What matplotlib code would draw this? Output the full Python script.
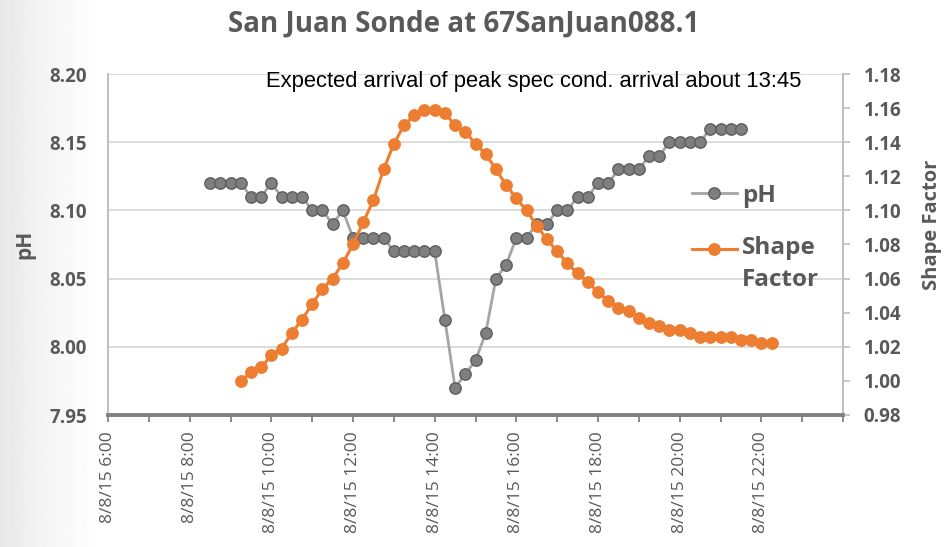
import numpy as np
import pandas as pd
import matplotlib
matplotlib.use("Agg")
import matplotlib.pyplot as plt
import matplotlib.dates as mdates
from matplotlib.ticker import FixedLocator, FormatStrFormatter, FuncFormatter
from matplotlib.legend_handler import HandlerLine2D

# ---- data -------------------------------------------------------------
title = "San Juan Sonde at 67SanJuan088.1"
note = "Expected arrival of peak spec cond. arrival about 13:45"
sample_interval = "15min"

ph_start = "2015-08-08 08:30"
ph_values = [
    8.12, 8.12, 8.12, 8.12, 8.11, 8.11, 8.12, 8.11, 8.11, 8.11,
    8.10, 8.10, 8.09, 8.10, 8.08, 8.08, 8.08, 8.08, 8.07, 8.07,
    8.07, 8.07, 8.07, 8.02, 7.97, 7.98, 7.99, 8.01, 8.05, 8.06,
    8.08, 8.08, 8.09, 8.09, 8.10, 8.10, 8.11, 8.11, 8.12, 8.12,
    8.13, 8.13, 8.13, 8.14, 8.14, 8.15, 8.15, 8.15, 8.15, 8.16,
    8.16, 8.16, 8.16,
]

shape_start = "2015-08-08 09:15"
shape_values = [
    1.000, 1.005, 1.008, 1.015, 1.019, 1.028, 1.036, 1.045, 1.054, 1.060,
    1.069, 1.080, 1.093, 1.106, 1.124, 1.139, 1.150, 1.156, 1.159, 1.159,
    1.157, 1.150, 1.146, 1.139, 1.133, 1.124, 1.115, 1.107, 1.100, 1.091,
    1.083, 1.076, 1.069, 1.063, 1.058, 1.052, 1.047, 1.043, 1.041, 1.037,
    1.034, 1.032, 1.030, 1.030, 1.028, 1.026, 1.026, 1.026, 1.026, 1.024,
    1.024, 1.022, 1.022,
]

x_start = "2015-08-08 06:00"
x_end = "2015-08-09 00:00"
ph_ticks = [7.95, 8.00, 8.05, 8.10, 8.15, 8.20]
shape_ticks = [0.98, 1.00, 1.02, 1.04, 1.06, 1.08, 1.10, 1.12, 1.14, 1.16, 1.18]

ph_times = pd.date_range(ph_start, periods=len(ph_values), freq=sample_interval)
shape_times = pd.date_range(shape_start, periods=len(shape_values), freq=sample_interval)

# ---- style ------------------------------------------------------------
TXT = "#595959"
ORANGE = "#ED7D31"
GRID = "#d9d9d9"
SPINE = "#bfbfbf"
FONT = ["Open Sans", "DejaVu Sans"]
plt.rcParams["font.family"] = FONT

W, H = 945, 547
fig = plt.figure(figsize=(W / 100, H / 100), dpi=100)
fig.patch.set_facecolor("white")

# soft grey shading along the left edge of the slide
bg = fig.add_axes([0, 0, 1, 1], zorder=-10)
xs = np.linspace(0, 1, 400)
shade = 1.0 - 0.09 * np.clip(1 - xs / 0.12, 0, 1) ** 1.5
bg.imshow(np.tile(shade, (10, 1)), cmap="gray", vmin=0, vmax=1,
          aspect="auto", extent=[0, 1, 0, 1])
bg.set_axis_off()

L, R, T, B = 108, 843, 74, 415
ax = fig.add_axes([L / W, 1 - B / H, (R - L) / W, (B - T) / H])
ax.set_facecolor("none")
ax2 = ax.twinx()

# pH series
ax.plot(ph_times, ph_values, color="#A5A5A5", lw=2.0, marker="o", ms=8.2,
        mfc="#7F7F7F", mec="#5E5E5E", mew=1.0, label="pH", zorder=3)
# shape factor series
ax2.plot(shape_times, shape_values, color=ORANGE, lw=2.2, marker="o", ms=8.2,
         mfc=ORANGE, mec=ORANGE, label="Shape\nFactor", zorder=3)

# x axis
ax.set_xlim(pd.Timestamp(x_start), pd.Timestamp(x_end))
ax.xaxis.set_major_locator(mdates.HourLocator(byhour=range(6, 23, 2)))
ax.xaxis.set_minor_locator(mdates.HourLocator())


def fmt_time(x, pos=None):
    d = mdates.num2date(x)
    return f"{d.month}/{d.day}/{d:%y} {d.hour}:{d:%M}"


ax.xaxis.set_major_formatter(FuncFormatter(fmt_time))
ax.tick_params(axis="x", which="both", direction="out", length=5, width=1.3,
               color="#808080", pad=7, labelsize=12.5, labelcolor=TXT,
               labelrotation=90)

# left y axis
ax.set_ylim(ph_ticks[0], ph_ticks[-1])
ax.yaxis.set_major_locator(FixedLocator(ph_ticks))
ax.yaxis.set_major_formatter(FormatStrFormatter("%.2f"))
ax.tick_params(axis="y", length=0, pad=15, labelsize=13.5, labelcolor=TXT)
ax.yaxis.grid(True, color=GRID, lw=1.3)
ax.set_axisbelow(True)

# right y axis
ax2.set_ylim(shape_ticks[0], shape_ticks[-1])
ax2.yaxis.set_major_locator(FixedLocator(shape_ticks))
ax2.yaxis.set_major_formatter(FormatStrFormatter("%.2f"))
ax2.tick_params(axis="y", direction="out", length=5, width=1.2, color=SPINE,
                pad=10, labelsize=13.5, labelcolor=TXT)

for a in (ax, ax2):
    a.spines["top"].set_visible(False)
    a.spines["left"].set_color(SPINE)
    a.spines["left"].set_linewidth(1.3)
    a.spines["right"].set_color(SPINE)
    a.spines["right"].set_linewidth(1.3)
    a.spines["bottom"].set_color("#808080")
    a.spines["bottom"].set_linewidth(2.6)

ax.set_ylabel("pH", fontsize=15, fontweight="bold", color=TXT)
ax.yaxis.label.set(va="center", ha="center", rotation_mode="default")
ax.yaxis.set_label_coords((25 - L) / (R - L), 0.5)
ax2.set_ylabel("Shape Factor", fontsize=14.5, fontweight="bold", color=TXT)
ax2.yaxis.label.set(va="center", ha="center", rotation=90,
                    rotation_mode="default")
ax2.yaxis.set_label_coords((932 - L) / (R - L), (B - 225) / (B - T))

fig.text(464 / W, 1 - 24 / H, title, ha="center", va="center",
         fontsize=20, fontweight="bold", color=TXT)
fig.text(534 / W, 1 - 81 / H, note, ha="center", va="center",
         fontsize=15.8, color="black", family=["Liberation Sans", "DejaVu Sans"])


class RaisedLineHandler(HandlerLine2D):
    """Line handle lifted to sit beside the first line of a two-line label."""

    def __init__(self, lift=0.0, **kw):
        super().__init__(**kw)
        self.lift = lift

    def create_artists(self, legend, orig_handle, xdescent, ydescent, width,
                       height, fontsize, trans):
        arts = super().create_artists(legend, orig_handle, xdescent, ydescent,
                                      width, height, fontsize, trans)
        for a in arts:
            a.set_ydata(np.asarray(a.get_ydata(), dtype=float) + self.lift * fontsize)
        return arts


h1 = ax.get_lines()[0]
h2 = ax2.get_lines()[0]
leg = ax2.legend([h1, h2], ["pH", "Shape\nFactor"], loc="upper left",
                 bbox_to_anchor=(692 / W, 1 - 184 / H),
                 bbox_transform=fig.transFigure, frameon=False,
                 handlelength=1.85, handletextpad=0.2, borderpad=0,
                 borderaxespad=0, labelspacing=1.15, numpoints=1,
                 prop={"family": FONT, "weight": "bold", "size": 17.5},
                 labelcolor=TXT,
                 handler_map={h2: RaisedLineHandler(lift=0.62)})
for t in leg.get_texts():
    t.set_linespacing(1.45)

# bold numerals on both value axes
fig.canvas.draw()
for lab in ax.get_yticklabels() + ax2.get_yticklabels():
    lab.set_fontweight("bold")

fig.savefig("out.png", dpi=100)
